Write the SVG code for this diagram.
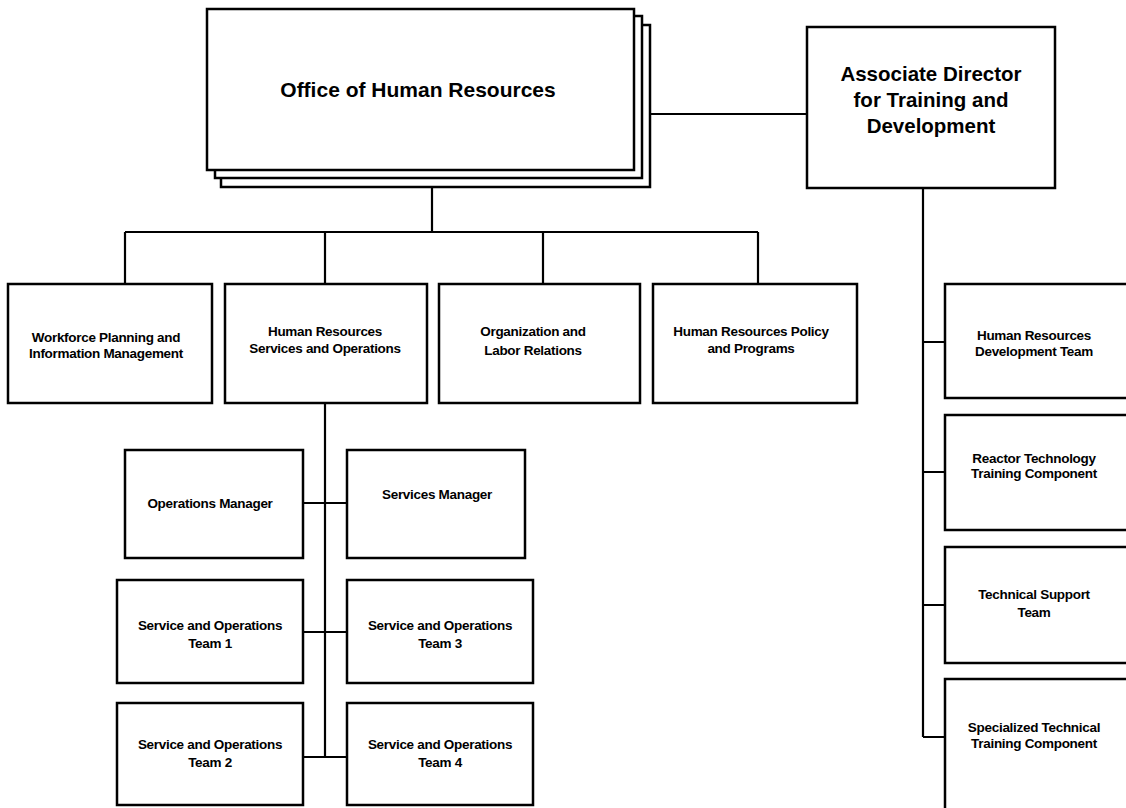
<svg xmlns="http://www.w3.org/2000/svg" width="1126" height="808" viewBox="0 0 1126 808">
<style>
.box{fill:#fff;stroke:#000;stroke-width:2.5}
.ln{fill:none;stroke:#000;stroke-width:2.2}
.big{font-family:"Liberation Sans",Arial,sans-serif;font-weight:bold;font-size:20.5px;text-anchor:middle;fill:#000}
.off{font-size:21px}
.sm{font-family:"Liberation Sans",Arial,sans-serif;font-weight:bold;font-size:13.5px;text-anchor:middle;fill:#000;letter-spacing:-0.3px}
</style>
<rect width="1126" height="808" fill="#fff"/>
<g id="connectors">
<path class="ln" d="M432,187 V232 M125,232 H758 M125,232 V284 M325,232 V284 M543,232 V284 M758,232 V284"/>
<path class="ln" d="M650,114 H807"/>
<path class="ln" d="M923,188 V737 M923,342 H945 M923,472 H945 M923,605 H945 M923,737 H945"/>
<path class="ln" d="M325,403 V757 M303,503 H347 M303,632 H347 M303,757 H347"/>
</g>
<g id="office">
<rect class="box" x="221" y="25" width="429" height="162"/>
<rect class="box" x="215" y="16" width="427" height="162"/>
<rect class="box" x="207" y="9" width="427" height="161"/>
<text class="big off" x="418" y="97">Office of Human Resources</text>
</g>
<g id="assoc">
<rect class="box" x="807" y="27" width="248" height="161"/>
<text class="big" x="931" y="81">Associate Director</text>
<text class="big" x="931" y="107">for Training and</text>
<text class="big" x="931" y="133">Development</text>
</g>
<g id="workforce">
<rect class="box" x="8" y="284" width="204" height="119"/>
<text class="sm" x="106" y="342">Workforce Planning and</text>
<text class="sm" x="106" y="358">Information Management</text>
</g>
<g id="hrso">
<rect class="box" x="225" y="284" width="202" height="119"/>
<text class="sm" x="325" y="336">Human Resources</text>
<text class="sm" x="325" y="353">Services and Operations</text>
</g>
<g id="olr">
<rect class="box" x="439" y="284" width="201" height="119"/>
<text class="sm" x="533" y="336">Organization and</text>
<text class="sm" x="533" y="355">Labor Relations</text>
</g>
<g id="hrpp">
<rect class="box" x="653" y="284" width="204" height="119"/>
<text class="sm" x="751" y="336">Human Resources Policy</text>
<text class="sm" x="751" y="353">and Programs</text>
</g>
<g id="opsmgr">
<rect class="box" x="125" y="450" width="178" height="108"/>
<text class="sm" x="210" y="508">Operations Manager</text>
</g>
<g id="svcmgr">
<rect class="box" x="347" y="450" width="178" height="108"/>
<text class="sm" x="437" y="499">Services Manager</text>
</g>
<g id="team1">
<rect class="box" x="117" y="580" width="186" height="103"/>
<text class="sm" x="210" y="630">Service and Operations</text>
<text class="sm" x="210" y="648">Team 1</text>
</g>
<g id="team3">
<rect class="box" x="347" y="580" width="186" height="103"/>
<text class="sm" x="440" y="630">Service and Operations</text>
<text class="sm" x="440" y="648">Team 3</text>
</g>
<g id="team2">
<rect class="box" x="117" y="703" width="186" height="102"/>
<text class="sm" x="210" y="749">Service and Operations</text>
<text class="sm" x="210" y="767">Team 2</text>
</g>
<g id="team4">
<rect class="box" x="347" y="703" width="186" height="102"/>
<text class="sm" x="440" y="749">Service and Operations</text>
<text class="sm" x="440" y="767">Team 4</text>
</g>
<g id="hrdev">
<rect class="box" x="945" y="284" width="200" height="114"/>
<text class="sm" x="1034" y="340">Human Resources</text>
<text class="sm" x="1034" y="356">Development Team</text>
</g>
<g id="reactor">
<rect class="box" x="945" y="415" width="200" height="115"/>
<text class="sm" x="1034" y="463">Reactor Technology</text>
<text class="sm" x="1034" y="478">Training Component</text>
</g>
<g id="techsupport">
<rect class="box" x="945" y="547" width="200" height="116"/>
<text class="sm" x="1034" y="599">Technical Support</text>
<text class="sm" x="1034" y="617">Team</text>
</g>
<g id="specialized">
<rect class="box" x="945" y="679" width="200" height="140"/>
<text class="sm" x="1034" y="732">Specialized Technical</text>
<text class="sm" x="1034" y="748">Training Component</text>
</g>
</svg>
